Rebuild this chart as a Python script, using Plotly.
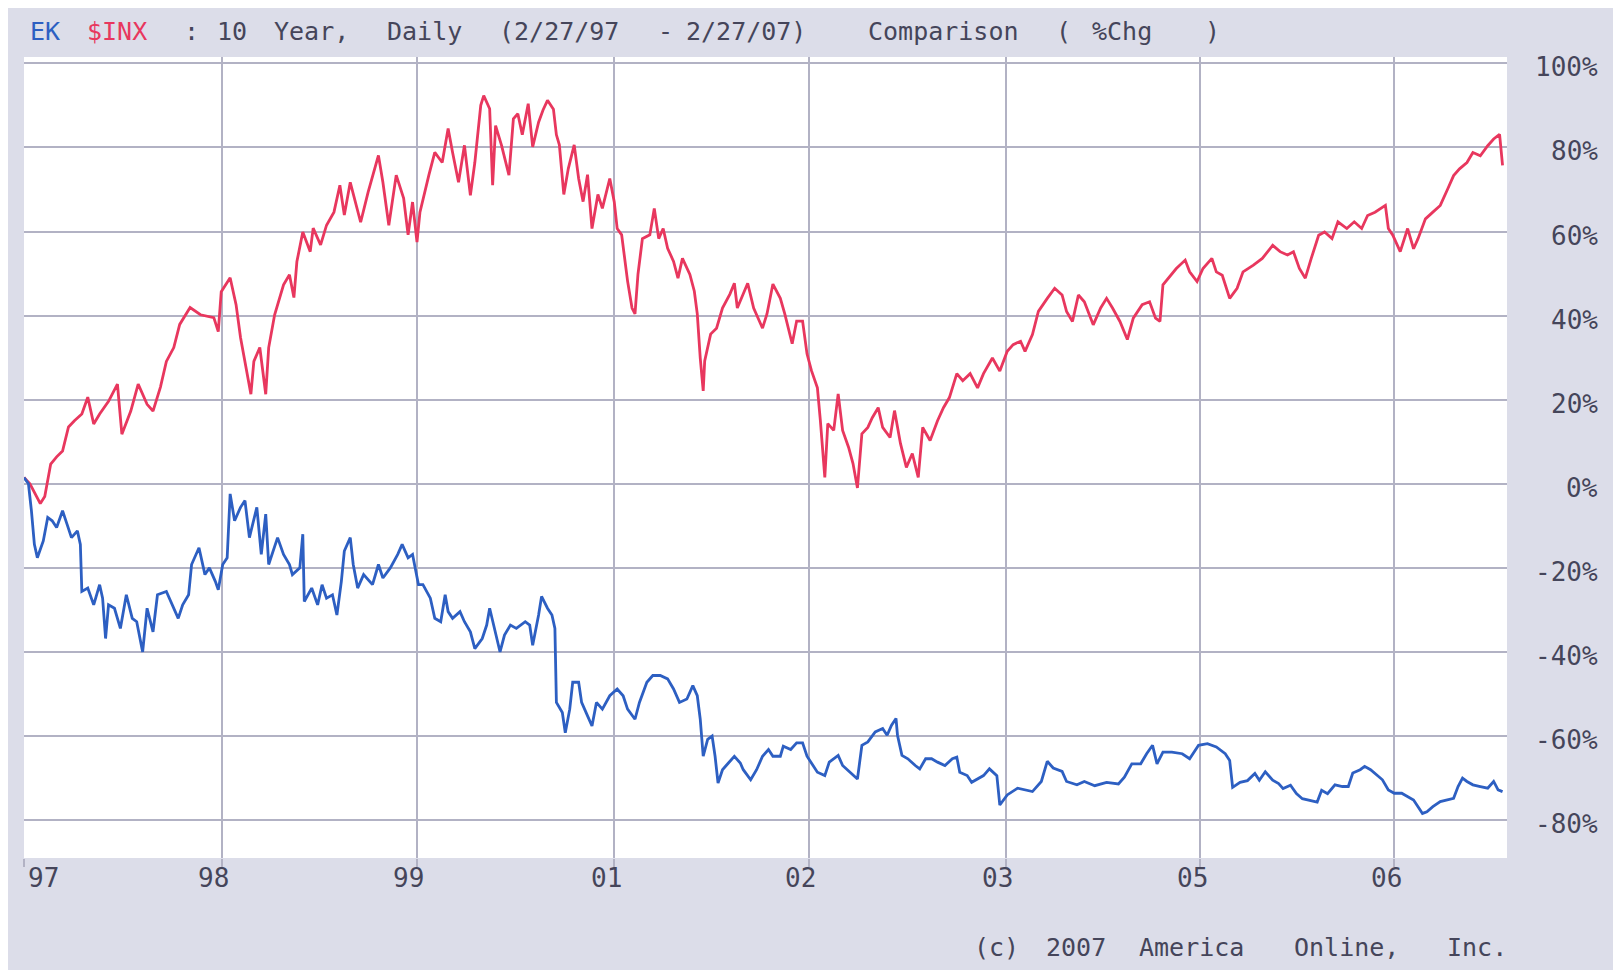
import plotly.graph_objects as go

# ---------------- data ----------------
# x in decimal years, y in % change since 2/27/97
red_years = [1997.16, 1997.20, 1997.27, 1997.30, 1997.34, 1997.38, 1997.42, 1997.46, 1997.50, 1997.55,
             1997.59, 1997.63, 1997.67, 1997.73, 1997.79, 1997.82, 1997.88, 1997.93, 1997.99, 1998.03,
             1998.08, 1998.12, 1998.17, 1998.21, 1998.28, 1998.35, 1998.44, 1998.47, 1998.49, 1998.55,
             1998.59, 1998.62, 1998.69, 1998.71, 1998.75, 1998.79, 1998.81, 1998.85, 1998.91, 1998.95,
             1998.98, 1999.00, 1999.04, 1999.09, 1999.11, 1999.16, 1999.20, 1999.25, 1999.29, 1999.32,
             1999.36, 1999.40, 1999.43, 1999.48, 1999.55, 1999.58, 1999.62, 1999.67, 1999.72, 1999.75,
             1999.78, 1999.81, 1999.83, 1999.89, 1999.93, 1999.98, 2000.02, 2000.05, 2000.09, 2000.13,
             2000.17, 2000.20, 2000.24, 2000.26, 2000.30, 2000.32, 2000.34, 2000.38, 2000.43,
             2000.46, 2000.49, 2000.52, 2000.56, 2000.59, 2000.63, 2000.66, 2000.69, 2000.73, 2000.75,
             2000.77, 2000.80, 2000.83, 2000.87, 2000.90, 2000.93, 2000.96, 2000.99, 2001.03, 2001.06,
             2001.11, 2001.14, 2001.16, 2001.19, 2001.23, 2001.26, 2001.28, 2001.30, 2001.33, 2001.38,
             2001.41, 2001.44, 2001.47, 2001.50, 2001.54, 2001.57, 2001.60, 2001.65, 2001.68, 2001.70,
             2001.72, 2001.74, 2001.75, 2001.79, 2001.83, 2001.87, 2001.92, 2001.95, 2001.97, 2002.04,
             2002.08, 2002.14, 2002.17, 2002.21, 2002.26, 2002.29, 2002.34, 2002.37, 2002.41, 2002.44,
             2002.47, 2002.51, 2002.53, 2002.56, 2002.58, 2002.62, 2002.65, 2002.68, 2002.72, 2002.75,
             2002.78, 2002.81, 2002.85, 2002.88, 2002.92, 2002.95, 2003.00, 2003.03, 2003.07, 2003.11,
             2003.15, 2003.19, 2003.22, 2003.27, 2003.32, 2003.36, 2003.40, 2003.45, 2003.49, 2003.54,
             2003.59, 2003.63, 2003.69,
             2003.74, 2003.79, 2003.83, 2003.88, 2003.91, 2003.96, 2004.00, 2004.06, 2004.11, 2004.16,
             2004.19, 2004.23, 2004.27, 2004.31, 2004.37, 2004.42, 2004.46, 2004.50, 2004.55, 2004.60,
             2004.64, 2004.70, 2004.75, 2004.79, 2004.82, 2004.84, 2004.89, 2004.93, 2004.99, 2005.02,
             2005.07, 2005.11, 2005.17, 2005.20, 2005.24, 2005.29, 2005.34, 2005.38, 2005.45, 2005.51,
             2005.58, 2005.63, 2005.68, 2005.72, 2005.76, 2005.80, 2005.84, 2005.89, 2005.93, 2005.98,
             2006.02, 2006.08, 2006.13, 2006.18, 2006.22, 2006.27, 2006.34, 2006.36, 2006.39, 2006.44,
             2006.49, 2006.53, 2006.56, 2006.61, 2006.66, 2006.71, 2006.76, 2006.80, 2006.84, 2006.89,
             2006.93, 2006.98, 2007.03, 2007.07, 2007.11, 2007.13]
red_pct = [1.5, 0.0, -4.7, -3.0, 4.7, 6.4, 7.8, 13.5, 15.0, 16.6,
           20.6, 14.2, 16.6, 19.6, 23.7, 11.8, 17.3, 23.7, 18.9, 17.3,
           23.0, 29.1, 32.4, 37.9, 41.9, 40.2, 39.5, 36.2, 45.7, 49.0,
           42.6, 34.8, 21.3, 29.1, 32.4, 21.3, 32.4, 40.2, 47.3, 49.7,
           44.3, 52.8, 59.9, 55.2, 60.8, 56.8, 61.5, 64.6, 71.0, 63.9,
           71.7, 66.3, 62.2, 69.3, 78.1, 71.7, 61.5, 73.4, 67.9, 59.2,
           67.0, 57.5, 64.6, 73.4, 78.8, 76.4, 84.5, 78.8, 71.7, 80.5,
           68.6, 76.4, 90.0, 92.3, 89.2, 71.0, 85.2, 80.5, 73.4,
           86.8, 88.0, 83.0, 90.4, 80.1, 86.0, 88.9, 91.2, 89.1, 83.0,
           80.6, 68.8, 74.9, 80.6, 72.6, 67.1, 73.5, 60.7, 68.8, 65.5,
           72.6, 67.1, 60.7, 59.2, 48.2, 41.8, 40.4, 49.8, 58.3, 59.2,
           65.5, 58.3, 60.7, 56.0, 52.9, 48.9, 53.6, 49.8, 45.8, 40.4,
           29.9, 22.1, 29.2, 35.6, 37.0, 41.8, 45.1, 47.7, 41.8, 47.7,
           41.8, 37.0, 40.4, 47.5, 44.1, 40.4, 33.3, 38.7, 38.7, 30.9,
           26.9, 22.8, 15.0, 1.5, 14.3, 12.7, 21.4, 12.7, 8.7, 4.8,
           -1.0, 11.9, 13.4, 15.7, 18.1, 13.4, 11.0, 17.4, 9.6, 3.9,
           7.2, 1.5, 13.4, 10.3, 15.0, 18.1, 20.5, 26.2, 24.5, 26.2,
           22.8, 26.2, 29.9,
           26.8, 31.5, 33.1, 33.9, 31.5, 35.5, 41.0, 44.1, 46.5, 44.9,
           41.0, 38.6, 44.9, 43.3, 37.8, 41.8, 44.1, 41.8, 38.6, 34.3,
           39.4, 42.6, 43.3, 39.4, 38.6, 47.3, 49.6, 51.2, 53.2, 50.4,
           48.1, 51.2, 53.6, 50.4, 49.6, 44.1, 46.5, 50.4, 52.0, 53.6,
           56.7, 55.2, 54.4, 55.2, 51.2, 48.9, 53.6, 59.1, 59.9, 58.3,
           62.3, 60.7, 62.3, 60.7, 63.8, 64.6, 66.2, 60.7, 59.1, 55.2,
           60.7, 55.9, 58.3, 63.0, 64.6, 66.2, 70.1, 73.3, 74.9, 76.4,
           78.8, 78.0, 80.4, 82.0, 83.1, 75.7]

blue_years = [1997.16, 1997.19, 1997.21, 1997.23, 1997.25, 1997.29, 1997.32, 1997.35, 1997.38, 1997.42,
              1997.45, 1997.48, 1997.52, 1997.54, 1997.55, 1997.59, 1997.63, 1997.67, 1997.69, 1997.71,
              1997.73, 1997.77, 1997.81, 1997.85, 1997.89, 1997.92, 1997.96, 1997.99, 1998.03, 1998.06,
              1998.12, 1998.16, 1998.20, 1998.23, 1998.27, 1998.29, 1998.34, 1998.38, 1998.41, 1998.45,
              1998.47, 1998.50, 1998.53, 1998.55, 1998.58, 1998.62, 1998.65, 1998.68, 1998.73, 1998.76,
              1998.79, 1998.81, 1998.87, 1998.91, 1998.95, 1998.97, 1999.02, 1999.04, 1999.05, 1999.10,
              1999.14, 1999.17, 1999.20, 1999.24, 1999.27, 1999.30, 1999.32, 1999.36, 1999.38, 1999.41,
              1999.45, 1999.51, 1999.55, 1999.58, 1999.63, 1999.68, 1999.71, 1999.75, 1999.78, 1999.82,
              1999.85, 1999.90, 1999.93, 1999.97, 2000.00, 2000.02, 2000.05, 2000.10, 2000.13, 2000.17,
              2000.20, 2000.25, 2000.28, 2000.30, 2000.32, 2000.37, 2000.40, 2000.44, 2000.48,
              2000.54, 2000.57, 2000.59, 2000.63, 2000.65, 2000.69, 2000.72, 2000.74, 2000.75, 2000.79,
              2000.81, 2000.84, 2000.86, 2000.90, 2000.92, 2000.96, 2000.99, 2001.02, 2001.06, 2001.11,
              2001.16, 2001.20, 2001.23, 2001.28, 2001.31, 2001.36, 2001.40, 2001.45, 2001.50, 2001.54,
              2001.58, 2001.63, 2001.67, 2001.70, 2001.72, 2001.74, 2001.77, 2001.80, 2001.82, 2001.84,
              2001.87, 2001.91, 2001.95, 2001.99, 2002.01, 2002.06, 2002.10, 2002.14, 2002.18, 2002.21,
              2002.26, 2002.28, 2002.33, 2002.37, 2002.41, 2002.44, 2002.47, 2002.51, 2002.56, 2002.59,
              2002.65, 2002.68, 2002.73, 2002.78, 2002.81, 2002.85, 2002.90, 2002.95, 2002.98, 2003.01,
              2003.04, 2003.05, 2003.08, 2003.12, 2003.17, 2003.20, 2003.24, 2003.28, 2003.32, 2003.37,
              2003.42, 2003.45, 2003.47, 2003.52, 2003.55, 2003.59, 2003.63, 2003.67, 2003.72,
              2003.74, 2003.79, 2003.86, 2003.92, 2003.96, 2004.02, 2004.06, 2004.10, 2004.16, 2004.19,
              2004.26, 2004.31, 2004.38, 2004.46, 2004.54, 2004.58, 2004.63, 2004.69, 2004.73, 2004.77,
              2004.80, 2004.84, 2004.90, 2004.97, 2005.02, 2005.08, 2005.14, 2005.20, 2005.26, 2005.29,
              2005.31, 2005.36, 2005.41, 2005.46, 2005.49, 2005.53, 2005.58, 2005.62, 2005.65, 2005.70,
              2005.74, 2005.78, 2005.83, 2005.88, 2005.91, 2005.95, 2006.00, 2006.05, 2006.09, 2006.12,
              2006.17, 2006.20, 2006.24, 2006.28, 2006.32, 2006.36, 2006.40, 2006.45, 2006.49, 2006.53,
              2006.56, 2006.59, 2006.62, 2006.66, 2006.71, 2006.76, 2006.80, 2006.83, 2006.86, 2006.89,
              2006.93, 2006.98, 2007.03, 2007.07, 2007.10, 2007.13]
blue_pct = [1.5, 0.0, -6.4, -14.4, -17.6, -13.6, -8.0, -8.8, -10.4, -6.4,
            -9.6, -12.8, -11.2, -14.4, -25.6, -24.8, -28.8, -24.0, -27.2, -36.8,
            -28.8, -29.6, -34.4, -26.4, -32.0, -32.8, -40.0, -29.6, -35.2, -26.4,
            -25.6, -28.8, -32.0, -28.8, -26.4, -19.2, -15.2, -21.6, -20.0, -23.2,
            -25.2, -19.2, -17.6, -2.4, -8.8, -5.6, -4.0, -12.8, -5.6, -16.8,
            -7.2, -19.2, -12.8, -16.8, -19.2, -21.6, -20.0, -12.0, -28.0, -24.8,
            -28.8, -24.0, -27.2, -26.4, -31.2, -23.2, -16.0, -12.8, -19.2, -24.8,
            -21.6, -24.0, -19.2, -22.4, -20.0, -16.8, -14.4, -17.6, -16.8, -24.0,
            -24.0, -27.2, -32.0, -32.8, -26.4, -30.4, -32.0, -30.4, -32.8, -35.2,
            -39.2, -36.8, -33.6, -29.6, -32.8, -40.0, -36.0, -33.6, -34.4,
            -32.8, -33.6, -38.4, -31.2, -26.8, -29.6, -31.2, -34.4, -52.0, -54.4,
            -59.2, -53.6, -47.2, -47.2, -52.0, -55.2, -57.6, -52.0, -53.6, -50.4,
            -48.8, -50.4, -53.6, -56.0, -52.0, -47.2, -45.6, -45.6, -46.4, -48.8,
            -52.0, -51.2, -48.0, -50.4, -56.0, -64.8, -60.8, -60.0, -64.8, -71.2,
            -68.0, -66.4, -64.8, -66.4, -68.0, -70.4, -68.0, -64.8, -63.2, -64.8,
            -64.8, -62.4, -63.2, -61.6, -61.6, -64.8, -66.4, -68.6, -69.4, -66.2,
            -64.6, -67.0, -68.6, -70.2, -62.2, -61.4, -59.0, -58.2, -59.8, -57.4,
            -55.8, -59.8, -64.6, -65.4, -67.0, -67.8, -65.4, -65.4, -66.2, -67.0,
            -65.4, -65.0, -68.6, -69.4, -71.0, -70.2, -69.4, -67.8, -69.4,
            -76.4, -74.0, -72.4, -72.8, -73.2, -70.8, -66.0, -67.6, -68.4, -70.8,
            -71.6, -70.8, -71.8, -71.0, -71.4, -69.8, -66.6, -66.6, -64.2, -62.2,
            -66.6, -63.8, -63.8, -64.2, -65.4, -62.2, -61.8, -62.6, -64.2, -65.8,
            -72.2, -71.0, -70.6, -68.9, -70.5, -68.5, -70.5, -71.3, -72.5, -71.7,
            -73.7, -74.9, -75.3, -75.7, -72.9, -73.7, -71.6, -72.0, -72.0, -68.8,
            -68.0, -67.2, -68.0, -69.2, -70.4, -72.8, -73.6, -73.6, -74.4, -75.2,
            -76.8, -78.4, -78.0, -76.8, -75.6, -75.2, -74.8, -72.0, -70.0, -70.8,
            -71.6, -72.0, -72.4, -70.8, -72.8, -73.2]

x_grid_years = [1997.16, 1998.495, 1999.81, 2001.14, 2002.45, 2003.78, 2005.09, 2006.40]
x_tick_labels = ["97", "98", "99", "01", "02", "03", "05", "06"]
y_ticks = [100, 80, 60, 40, 20, 0, -20, -40, -60, -80]
y_tick_labels = ["100%", "80%", "60%", "40%", "20%", "0%", "-20%", "-40%", "-60%", "-80%"]

title_words = ["EK", "$INX", ":", "10", "Year,", "Daily", "(2/27/97", "-", "2/27/07)",
               "Comparison", "(", "%Chg", ")"]
copyright_words = ["(c)", "2007", "America", "Online,", "Inc."]

# ---------------- layout / style ----------------
# The page body has an 8px default margin, so the figure is shrunk by that amount
OFF = 8
WIN_W, WIN_H = 1621, 970
W, H = WIN_W - OFF, WIN_H - OFF
# plot area edges in window pixels
L_abs, R_abs, T_abs, B_abs = 24, 1507, 57, 858
L, R, T, B = L_abs - OFF, R_abs - OFF, T_abs - OFF, B_abs - OFF

FONT = "DejaVu Sans Mono"
RED = "#e8375e"
BLUE = "#2d5fc2"
TXT = "#45455a"
GRID = "#b2b2c4"
BG = "#dcdde9"

title_colors = [BLUE, RED] + [TXT] * (len(title_words) - 2)
title_px = [28, 85, 182, 215, 272, 385, 497, 656, 684, 866, 1054, 1090, 1203]
copyright_px = [972, 1044, 1137, 1292, 1445]
x_label_shift = [19, -8, -8, -8, -8, -8, -8, -8]

fig = go.Figure()
fig.add_trace(go.Scatter(x=red_years, y=red_pct, mode="lines", name="$INX",
                         line=dict(color=RED, width=2.8)))
fig.add_trace(go.Scatter(x=blue_years, y=blue_pct, mode="lines", name="EK",
                         line=dict(color=BLUE, width=2.8)))

ann = []
for w, c, px in zip(title_words, title_colors, title_px):
    ann.append(dict(text=w, xref="paper", yref="paper", x=0, y=1, xshift=px - L_abs, yshift=T_abs - 31,
                    xanchor="left", yanchor="middle", showarrow=False,
                    font=dict(family=FONT, size=25, color=c)))
for w, px in zip(copyright_words, copyright_px):
    ann.append(dict(text=w, xref="paper", yref="paper", x=0, y=0, xshift=px - L_abs, yshift=-(947 - B_abs),
                    xanchor="left", yanchor="middle", showarrow=False,
                    font=dict(family=FONT, size=25, color=TXT)))
for v, lab in zip(y_ticks, y_tick_labels):
    ann.append(dict(text=lab, xref="paper", yref="y", x=1, y=v, xshift=1600 - R_abs, yshift=-4,
                    xanchor="right", yanchor="middle", showarrow=False,
                    font=dict(family=FONT, size=26, color=TXT)))
for xv, lab, sh in zip(x_grid_years, x_tick_labels, x_label_shift):
    ann.append(dict(text=lab, xref="x", yref="paper", x=xv, y=0, xshift=sh, yshift=-(878 - B_abs),
                    xanchor="center", yanchor="middle", showarrow=False,
                    font=dict(family=FONT, size=26, color=TXT)))

fig.update_layout(
    width=W, height=H,
    margin=dict(l=L, r=W - R, t=T, b=H - B, pad=0),
    paper_bgcolor=BG, plot_bgcolor="white",
    showlegend=False,
    annotations=ann,
    xaxis=dict(range=[1997.16, 2007.16], tickvals=x_grid_years, showticklabels=False,
               showgrid=True, gridcolor=GRID, gridwidth=1.5, zeroline=False,
               ticks="outside", ticklen=8, tickcolor=GRID, tickwidth=1.5, showline=False),
    yaxis=dict(range=[-89, 101.5], tickvals=y_ticks, showticklabels=False,
               showgrid=True, gridcolor=GRID, gridwidth=1.5, zeroline=False, showline=False),
)

fig.write_html("out.html")
